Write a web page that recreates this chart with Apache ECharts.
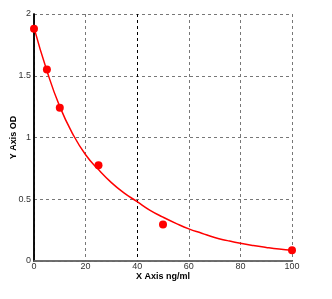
<!DOCTYPE html>
<html><head><meta charset="utf-8">
<script src="https://cdn.jsdelivr.net/npm/echarts@6/dist/echarts.min.js"></script>
<style>html,body{margin:0;padding:0;background:#fff}#c{width:332px;height:299px}</style>
</head><body><div id="c"></div>
<script>
const pointX = [0, 5, 10, 25, 50, 100];
const pointY = [1.88, 1.55, 1.24, 0.775, 0.295, 0.088];
const curveX = [0, 5, 10, 15, 20, 25, 30, 35, 40, 45, 50, 55, 60, 65, 70, 75, 80, 85, 90, 95, 100];
const curveY = [1.89, 1.54, 1.25, 1.03, 0.86, 0.74, 0.635, 0.55, 0.48, 0.41, 0.355, 0.305, 0.26, 0.225, 0.19, 0.165, 0.143, 0.125, 0.11, 0.097, 0.087];
const xTicks = [0, 20, 40, 60, 80, 100];
const yTicks = [0, 0.5, 1, 1.5, 2];

const chart = echarts.init(document.getElementById('c'), null, {renderer: 'canvas'});
const lab = {color: '#333', fontSize: 9, fontFamily: 'Liberation Sans, Arial, sans-serif'};
chart.setOption({
  animation: false,
  backgroundColor: '#fff',
  grid: {left: 34, right: 40, top: 14, bottom: 38, containLabel: false, outerBoundsMode: 'none'},
  xAxis: [{
    type: 'value', min: 0, max: 100, interval: 20,
    name: 'X Axis ng/ml', nameLocation: 'middle', nameGap: 11, nameMoveOverlap: false,
    nameTextStyle: {color: '#000', fontSize: 9, fontWeight: 'bold', fontFamily: 'Liberation Sans, Arial, sans-serif'},
    axisLine: {show: true, lineStyle: {color: '#000', width: 1.5}},
    axisTick: {show: false},
    axisLabel: Object.assign({margin: 1, formatter: v => xTicks.includes(v) ? String(v) : ''}, lab),
    splitLine: {show: true, lineStyle: {color: ['#777', '#777', '#000', '#777', '#777', '#777'], type: [3, 3], width: 1}}
  }, {
    type: 'value', position: 'top', min: 0, max: 100,
    axisLine: {show: true, lineStyle: {color: '#808080', width: 1.5}},
    axisTick: {show: false}, axisLabel: {show: false}, splitLine: {show: false}
  }],
  yAxis: [{
    type: 'value', min: 0, max: 2, interval: 0.5,
    name: 'Y Axis OD', nameLocation: 'middle', nameGap: 16, nameMoveOverlap: false,
    nameTextStyle: {color: '#000', fontSize: 9, fontWeight: 'bold', fontFamily: 'Liberation Sans, Arial, sans-serif'},
    axisLine: {show: true, lineStyle: {color: '#000', width: 1.5}},
    axisTick: {show: false},
    axisLabel: Object.assign({margin: 3, formatter: v => yTicks.includes(v) ? String(v) : ''}, lab),
    splitLine: {show: true, lineStyle: {color: '#777', type: [3, 3], width: 1}}
  }, {
    type: 'value', position: 'right', min: 0, max: 2,
    axisLine: {show: true, lineStyle: {color: '#000', width: 1.5}},
    axisTick: {show: false}, axisLabel: {show: false}, splitLine: {show: false}
  }],
  series: [{
    type: 'line', smooth: true, showSymbol: false,
    data: curveX.map((x, i) => [x, curveY[i]]),
    lineStyle: {color: '#ff0000', width: 1.5}, z: 2
  }, {
    type: 'scatter', symbol: 'circle', symbolSize: 8,
    data: pointX.map((x, i) => [x, pointY[i]]),
    itemStyle: {color: '#ff0000', opacity: 1}, z: 3
  }]
});
</script></body></html>
